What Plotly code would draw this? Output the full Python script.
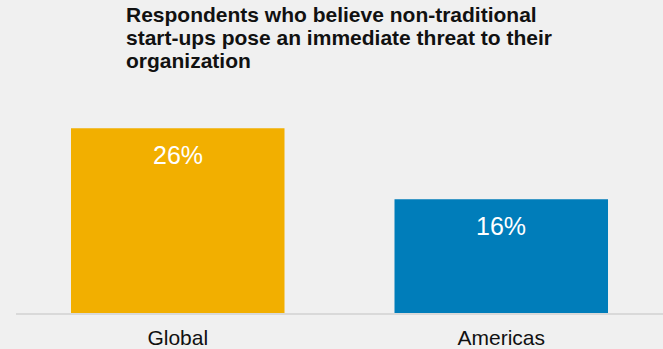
import plotly.graph_objects as go

regions = ["Global", "Americas"]
shares = [26, 16]
bar_colors = ["#F2AF00", "#007DBA"]

title_lines = [
    "Respondents who believe non-traditional",
    "start-ups pose an immediate threat to their",
    "organization",
]

FONT = "Liberation Sans, Arial, Helvetica, sans-serif"
W, H = 663, 349
M_L, M_R, M_T, M_B = 16, 0, 114, 36
PLOT_H = H - M_T - M_B

fig = go.Figure(
    go.Bar(
        x=regions,
        y=shares,
        marker=dict(color=bar_colors, line=dict(width=0)),
        hoverinfo="skip",
    )
)

# value labels placed just inside the top of each bar
for region, value in zip(regions, shares):
    fig.add_annotation(
        x=region, y=value, text=f"{value}%",
        showarrow=False, yanchor="top", yshift=-11,
        font=dict(family=FONT, size=25, color="white"),
    )

# bold heading, one annotation per line for tight line spacing
for i, line in enumerate(title_lines):
    centre_px = 15 + i * 22.7
    fig.add_annotation(
        text=f"<b>{line}</b>",
        xref="paper", yref="paper",
        x=(124 - M_L) / (W - M_L - M_R), xanchor="left",
        y=1 + (M_T - centre_px) / PLOT_H, yanchor="middle",
        showarrow=False, align="left",
        font=dict(family=FONT, size=21, color="#111111"),
    )

fig.update_layout(
    width=W, height=H,
    margin=dict(l=M_L, r=M_R, t=M_T, b=M_B),
    paper_bgcolor="#F0F0F0",
    plot_bgcolor="#F0F0F0",
    bargap=0.34,
    showlegend=False,
    font=dict(family=FONT),
)

fig.update_xaxes(
    showline=True, linecolor="#D9D9D9", linewidth=2,
    showgrid=False, ticks="", ticklabelstandoff=5,
    tickfont=dict(size=21, color="#111111"),
    fixedrange=True,
)
fig.update_yaxes(
    range=[0, 28], visible=False, showgrid=False, zeroline=False, fixedrange=True,
)

fig.write_html("out.html")
